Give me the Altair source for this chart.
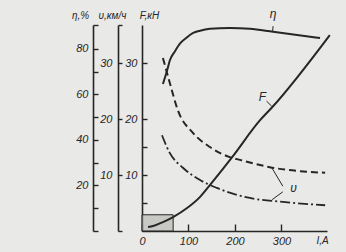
import altair as alt
import pandas as pd

# ---------------- data ----------------
# efficiency curve  eta(I), %
I_eta = [45, 54, 60, 71, 82, 95, 110, 125, 146, 189, 232, 282, 383]
eta_pct = [64.6, 70.5, 75.0, 79.0, 82.4, 84.8, 87.0, 88.0, 88.8, 89.2, 88.8, 87.5, 84.8]

# tractive force F(I), kN
I_F = [13, 24, 45, 67, 97, 125, 146, 194, 254, 280, 404]
F_kN = [0.7, 0.9, 1.6, 2.5, 4.1, 6.1, 8.2, 13.2, 19.8, 22.1, 35.0]

# speed v(I), km/h  (dashed curve)
I_v_dash = [45, 60, 77, 110, 146, 189, 211, 275, 394]
v_dash = [30.9, 26.4, 21.6, 17.5, 15.0, 13.2, 12.7, 11.4, 10.4]

# speed v(I), km/h  (dash-dot curve)
I_v_dot = [43, 60, 88, 125, 161, 232, 303, 394]
v_dot = [17.1, 13.9, 11.3, 9.1, 7.7, 5.9, 5.2, 4.6]

# axes
x_ticks = [0, 100, 200, 300]
F_ticks = [5, 10, 15, 20, 30]
v_ticks = [0, 10, 20, 30, 36.8]
eta_ticks = [0, 10, 20, 30, 40, 50, 60, 70, 80, 90.5]
I_max = 398
F_max = 36.8
eta_max = 90.5

# curve labels (text, I, value)
lbl_F = [("F", 259, 24.0)]
lbl_v = [("υ", 326, 7.6)]
lbl_eta = [("η", 282, 95.5)]

# leader lines (I, value, I2, value2)
lead_v = [(303, 8.0, 280, 11.2), (303, 7.0, 280, 5.6)]
lead_F = [(268, 23.2, 279, 22.3)]
lead_eta = [(282, 90.0, 281, 87.7)]

# shaded box near the origin (I, F, I2, F2)
box = [(0, 0, 67, 2.9)]

# ---------------- styling ----------------
W, H = 185, 206
INK = "#262626"
BG = "#e9e9e7"
FONT = "Liberation Sans"

common_axis = dict(
    grid=False, domainColor=INK, tickColor=INK, domainWidth=1.6, tickWidth=1.4,
    labelColor=INK, labelFont=FONT, labelFontSize=11, labelFontStyle="italic",
    labelFlush=False, labelOverlap=False,
    titleColor=INK, titleFont=FONT, titleFontSize=10, titleFontStyle="italic",
    titleFontWeight="normal", titleAngle=0, titleAlign="center", titleBaseline="middle",
)

x_axis = alt.Axis(orient="top", offset=-H, values=x_ticks, tickSize=7, labelPadding=-11,
                  labelBaseline="top", labelAlign="center", title="I,A",
                  titleX=180, titleY=9, **common_axis)
F_axis = alt.Axis(orient="right", offset=-W, values=F_ticks, tickSize=5, labelPadding=-10,
                  labelAlign="right", labelBaseline="middle",
                  labelExpr="datum.value % 10 == 0 ? datum.label : ''",
                  title="F,кН", titleX=7, titleY=-10, **common_axis)
v_axis = alt.Axis(orient="right", offset=-(W + 24), values=v_ticks, tickSize=4, labelPadding=-10,
                  labelAlign="right", labelBaseline="middle",
                  labelExpr="(datum.value == 10 || datum.value == 20 || datum.value == 30) ? datum.label : ''",
                  title="υ,км/ч", titleX=-6, titleY=-10, **common_axis)
eta_axis = alt.Axis(orient="right", offset=-(W + 49), values=eta_ticks, tickSize=5, labelPadding=-10,
                    labelAlign="right", labelBaseline="middle",
                    labelExpr="(datum.value > 0 && datum.value % 20 == 0) ? datum.label : ''",
                    title="η,%", titleX=-13, titleY=-10, **common_axis)

xs = alt.Scale(domain=[0, I_max], nice=False, zero=False)
X = alt.X("I:Q", scale=xs, axis=x_axis)
X2 = alt.X2("I2:Q")

def Y(axis, dmax):
    return alt.Y("y:Q", scale=alt.Scale(domain=[0, dmax], nice=False, zero=False), axis=axis)

# ---------------- frames ----------------
dfF = pd.DataFrame({"I": I_F, "y": F_kN})
dfEta = pd.DataFrame({"I": I_eta, "y": eta_pct})
dfV1 = pd.DataFrame({"I": I_v_dash, "y": v_dash})
dfV2 = pd.DataFrame({"I": I_v_dot, "y": v_dot})

def lbl_df(rows):
    return pd.DataFrame(rows, columns=["t", "I", "y"])

def seg_df(rows):
    return pd.DataFrame(rows, columns=["I", "y", "I2", "y2"])

YF = Y(F_axis, F_max)
YV = Y(v_axis, F_max)
YE = Y(eta_axis, eta_max)

txt = dict(font=FONT, fontSize=12, fontStyle="italic", color=INK, align="center", baseline="middle")

# F group
f_box = alt.Chart(seg_df(box)).mark_rect(fill="#b9b9b7", fillOpacity=0.7, stroke=INK, strokeWidth=1).encode(
    x=X, x2=X2, y=YF, y2=alt.Y2("y2:Q"))
f_line = alt.Chart(dfF).mark_line(color=INK, strokeWidth=2, interpolate="monotone").encode(x=X, y=YF)
f_lbl = alt.Chart(lbl_df(lbl_F)).mark_text(**txt).encode(x=X, y=YF, text="t:N")
f_lead = alt.Chart(seg_df(lead_F)).mark_rule(color=INK, strokeWidth=1).encode(x=X, x2=X2, y=YF, y2=alt.Y2("y2:Q"))
g_F = alt.layer(f_box, f_line, f_lbl, f_lead)

# v group
v_l1 = alt.Chart(dfV1).mark_line(color=INK, strokeWidth=2, strokeDash=[7, 4], interpolate="monotone").encode(x=X, y=YV)
v_l2 = alt.Chart(dfV2).mark_line(color=INK, strokeWidth=1.8, strokeDash=[10, 3, 2, 3], interpolate="monotone").encode(x=X, y=YV)
v_lbl = alt.Chart(lbl_df(lbl_v)).mark_text(**txt).encode(x=X, y=YV, text="t:N")
v_lead = alt.Chart(seg_df(lead_v)).mark_rule(color=INK, strokeWidth=1).encode(x=X, x2=X2, y=YV, y2=alt.Y2("y2:Q"))
g_V = alt.layer(v_l1, v_l2, v_lbl, v_lead)

# eta group
e_line = alt.Chart(dfEta).mark_line(color=INK, strokeWidth=2, interpolate="monotone").encode(x=X, y=YE)
e_lbl = alt.Chart(lbl_df(lbl_eta)).mark_text(**txt).encode(x=X, y=YE, text="t:N")
e_lead = alt.Chart(seg_df(lead_eta)).mark_rule(color=INK, strokeWidth=1).encode(x=X, x2=X2, y=YE, y2=alt.Y2("y2:Q"))
g_E = alt.layer(e_line, e_lbl, e_lead)

chart = alt.layer(g_F, g_V, g_E).resolve_scale(y="independent").properties(
    width=W, height=H,
    autosize=alt.AutoSizeParams(type="none"),
    padding={"left": 142, "top": 25, "right": 346 - 142 - W, "bottom": 252 - 25 - H},
    background=BG,
).configure_view(stroke=None)

chart.save("out.html", embed_options={"renderer": "svg", "actions": False})
